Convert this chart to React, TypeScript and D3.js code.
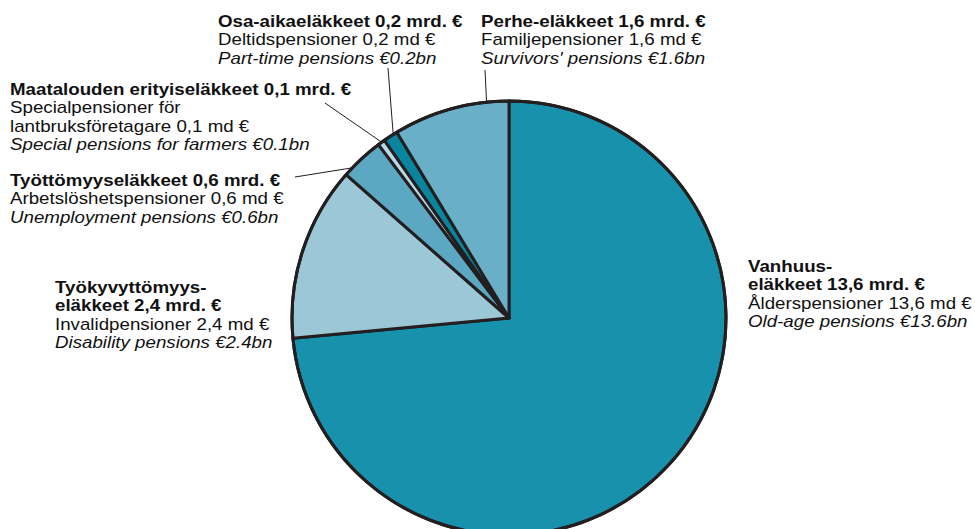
import React from "react";
import * as d3 from "d3";

// pension expenditure, billion euros
const categories = ["Vanhuus", "Tyokyvyttomyys", "Tyottomyys", "Maatalous", "Osa-aika", "Perhe"];
const values = [13.6, 2.4, 0.6, 0.1, 0.2, 1.6];
const colors = ["#1891ad", "#9bc7d6", "#5ca8c2", "#b7d9e6", "#0a859f", "#6aafc8"];

const boldLines = [
  ["Vanhuus-", "eläkkeet 13,6 mrd. €"],
  ["Työkyvyttömyys-", "eläkkeet 2,4 mrd. €"],
  ["Työttömyyseläkkeet 0,6 mrd. €"],
  ["Maatalouden erityiseläkkeet 0,1 mrd. €"],
  ["Osa-aikaeläkkeet 0,2 mrd. €"],
  ["Perhe-eläkkeet 1,6 mrd. €"],
];
const swedishLines = [
  ["Ålderspensioner 13,6 md €"],
  ["Invalidpensioner 2,4 md €"],
  ["Arbetslöshetspensioner 0,6 md €"],
  ["Specialpensioner för", "lantbruksföretagare 0,1 md €"],
  ["Deltidspensioner 0,2 md €"],
  ["Familjepensioner 1,6 md €"],
];
const englishLines = [
  "Old-age pensions €13.6bn",
  "Disability pensions €2.4bn",
  "Unemployment pensions €0.6bn",
  "Special pensions for farmers €0.1bn",
  "Part-time pensions €0.2bn",
  "Survivors' pensions €1.6bn",
];

// label layout: first baseline of each text block, and leader line (end point + where on the slice it hits)
const labelPos = [
  { x: 748, y: 272 },
  { x: 55, y: 293 },
  { x: 10, y: 186 },
  { x: 10, y: 95 },
  { x: 218, y: 27 },
  { x: 481, y: 27 },
];
const leaders = [
  null,
  null,
  { x: 295, y: 177, at: 0.18 },
  { x: 325, y: 103, at: 0.5 },
  { x: 388, y: 68, at: 0.75 },
  { x: 485, y: 70, at: 0.81 },
];

const W = 975;
const H = 529;
const cx = 509;
const cy = 318;
const R = 217;
const lineH = 18.4;
const stretch = 1.17;
const font = "'Liberation Sans', Arial, sans-serif";
const ink = "#231f20";

export default function App() {
  const data = categories.map((c, i) => ({ c, v: values[i], i }));
  const pie = d3.pie<any>().value((d) => d.v).sort(null)(data);
  const arc = d3.arc<any>().innerRadius(0).outerRadius(R);

  return (
    <svg
      width={W}
      height={H}
      style={{ position: "absolute", left: 0, top: 0, background: "#fff" }}
    >
      <g transform={`translate(${cx},${cy})`}>
        {pie.map((p) => (
          <path
            key={p.data.c}
            d={arc(p) as string}
            fill={colors[p.index]}
            stroke={ink}
            strokeWidth={3}
            strokeLinejoin="round"
          />
        ))}
        <circle r={R} fill="none" stroke={ink} strokeWidth={3} />
        {pie.map((p) => {
          const l = leaders[p.index];
          if (!l) return null;
          const a = p.startAngle + (p.endAngle - p.startAngle) * l.at;
          const r0 = R + 1;
          return (
            <line
              key={"l" + p.index}
              x1={Math.sin(a) * r0}
              y1={-Math.cos(a) * r0}
              x2={l.x - cx}
              y2={l.y - cy}
              stroke={ink}
              strokeWidth={1}
            />
          );
        })}
      </g>
      {categories.map((c, i) => {
        const pos = labelPos[i];
        const rows: { t: string; w: string; s: string }[] = [];
        boldLines[i].forEach((t) => rows.push({ t, w: "bold", s: "normal" }));
        swedishLines[i].forEach((t) => rows.push({ t, w: "normal", s: "normal" }));
        rows.push({ t: englishLines[i], w: "normal", s: "italic" });
        return (
          <text
            key={c}
            transform={`translate(${pos.x},${pos.y}) scale(${stretch},1)`}
            fontFamily={font}
            fontSize={16}
            fill="#111"
          >
            {rows.map((r, k) => (
              <tspan key={k} x={0} y={k * lineH} fontWeight={r.w} fontStyle={r.s}>
                {r.t}
              </tspan>
            ))}
          </text>
        );
      })}
    </svg>
  );
}
